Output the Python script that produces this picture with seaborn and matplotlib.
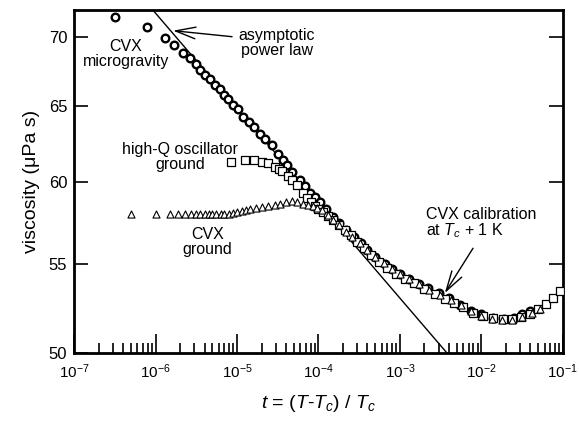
import numpy as np
import pandas as pd
import matplotlib
matplotlib.use("Agg")
import matplotlib.pyplot as plt
import matplotlib.ticker as mticker
import seaborn as sns

# CVX microgravity (circles)
micro_t = [3.2e-7, 7.9e-7, 1.3e-6, 1.7e-6, 2.2e-6, 2.65e-6, 3.1e-6, 3.5e-6, 4.1e-6, 4.7e-6,
           5.4e-6, 6.2e-6, 7.0e-6, 7.8e-6, 9.0e-6, 1.03e-5, 1.2e-5, 1.4e-5, 1.6e-5, 1.9e-5,
           2.2e-5, 2.7e-5, 3.2e-5, 3.7e-5, 4.1e-5, 4.8e-5, 5.9e-5, 6.8e-5, 7.9e-5, 9.0e-5,
           1.05e-4, 1.25e-4, 1.5e-4, 1.8e-4, 2.2e-4, 2.7e-4, 3.3e-4, 4.0e-4, 5.0e-4, 6.5e-4,
           8.0e-4, 1.0e-3, 1.3e-3, 1.7e-3, 2.2e-3, 3.0e-3, 4.0e-3, 5.5e-3, 7.5e-3, 1.0e-2,
           1.4e-2, 1.9e-2, 2.5e-2, 3.2e-2, 4.0e-2]
micro_eta = [71.5, 70.7, 69.9, 69.4, 68.8, 68.4, 68.0, 67.6, 67.2, 66.9,
             66.5, 66.2, 65.8, 65.5, 65.1, 64.8, 64.3, 63.9, 63.6, 63.1,
             62.8, 62.4, 61.8, 61.4, 61.1, 60.6, 60.1, 59.7, 59.3, 59.0,
             58.7, 58.3, 57.8, 57.4, 57.0, 56.6, 56.2, 55.8, 55.4, 55.0,
             54.7, 54.4, 54.1, 53.8, 53.6, 53.3, 53.0, 52.6, 52.3, 52.1,
             51.9, 51.85, 51.9, 52.1, 52.3]

# high-Q oscillator ground (squares)
osc_t = [8.4e-6, 1.26e-5, 1.6e-5, 2.0e-5, 2.4e-5, 2.9e-5, 3.3e-5, 3.6e-5, 4.2e-5, 4.8e-5,
         5.4e-5, 6.4e-5, 7.2e-5, 8.0e-5, 9.0e-5, 1.0e-4, 1.15e-4, 1.3e-4, 1.5e-4, 1.8e-4,
         2.1e-4, 2.5e-4, 3.0e-4, 3.6e-4, 4.4e-4, 5.5e-4, 7.0e-4, 9.0e-4, 1.15e-3, 1.5e-3,
         2.0e-3, 2.7e-3, 3.6e-3, 4.6e-3, 6.0e-3, 8.0e-3, 1.05e-2, 1.4e-2, 1.85e-2, 2.4e-2,
         3.1e-2, 4.0e-2, 5.0e-2, 6.2e-2, 7.5e-2, 9.3e-2]
osc_eta = [61.3, 61.4, 61.4, 61.3, 61.2, 60.95, 60.8, 60.7, 60.35, 60.1,
           59.8, 59.3, 58.95, 58.7, 58.5, 58.3, 58.1, 57.85, 57.6, 57.3,
           57.0, 56.7, 56.3, 55.9, 55.5, 55.1, 54.75, 54.4, 54.1, 53.85,
           53.55, 53.25, 52.95, 52.75, 52.5, 52.2, 52.0, 51.9, 51.85, 51.85,
           51.95, 52.15, 52.4, 52.7, 53.0, 53.4]

# CVX ground (triangles)
gnd_t = [5.0e-7, 1.0e-6, 1.5e-6, 1.9e-6, 2.3e-6, 2.7e-6, 3.1e-6, 3.5e-6, 4.0e-6, 4.5e-6,
         5.0e-6, 5.6e-6, 6.3e-6, 7.0e-6, 8.0e-6, 9.0e-6, 1.0e-5, 1.15e-5, 1.3e-5, 1.45e-5,
         1.7e-5, 2.0e-5, 2.4e-5, 2.9e-5, 3.4e-5, 4.0e-5, 4.7e-5, 5.5e-5, 6.5e-5, 7.5e-5,
         8.5e-5, 9.6e-5, 1.1e-4, 1.3e-4, 1.5e-4, 1.8e-4, 2.2e-4, 2.6e-4, 3.2e-4, 4.0e-4,
         5.0e-4, 6.3e-4, 8.0e-4, 1.0e-3, 1.3e-3, 1.7e-3, 2.3e-3, 3.1e-3, 4.2e-3, 5.6e-3,
         7.5e-3, 1.0e-2, 1.35e-2, 1.8e-2, 2.4e-2, 3.2e-2, 4.2e-2, 5.3e-2]
gnd_eta = [58.0, 58.0, 58.0, 58.0, 58.0, 58.0, 58.0, 58.0, 57.95, 57.95,
           57.95, 57.95, 57.95, 58.0, 58.0, 58.05, 58.1, 58.15, 58.2, 58.3,
           58.35, 58.4, 58.5, 58.55, 58.6, 58.7, 58.75, 58.7, 58.6, 58.55,
           58.45, 58.35, 58.2, 57.9, 57.6, 57.3, 56.9, 56.6, 56.2, 55.8,
           55.4, 55.05, 54.7, 54.4, 54.1, 53.8, 53.5, 53.2, 52.9, 52.6,
           52.3, 52.0, 51.85, 51.8, 51.8, 51.95, 52.2, 52.4]

# asymptotic power law (straight line on log-log axes, two end points)
law_t = [9.3e-7, 3.8e-3]
law_eta = [72.0, 50.0]

y_ticks = [50, 55, 60, 65, 70]

sns.set_theme(style="ticks")
plt.rcParams['font.family'] = ['Liberation Sans', 'DejaVu Sans']
plt.rcParams['mathtext.fontset'] = 'custom'
plt.rcParams['mathtext.rm'] = 'Liberation Sans'
plt.rcParams['mathtext.it'] = 'Liberation Sans:italic'
plt.rcParams['text.color'] = 'black'
plt.rcParams['axes.labelcolor'] = 'black'

fig = plt.figure(figsize=(5.79, 4.25), dpi=100)
ax = fig.add_axes([0.128, 0.169, 0.844, 0.807])

df_gnd = pd.DataFrame({'t': gnd_t, 'eta': gnd_eta})
df_osc = pd.DataFrame({'t': osc_t, 'eta': osc_eta})
df_micro = pd.DataFrame({'t': micro_t, 'eta': micro_eta})

sns.lineplot(x=law_t, y=law_eta, color='black', linewidth=1.0, ax=ax)
sns.scatterplot(data=df_micro, x='t', y='eta', marker='o', s=30, facecolor='white',
                edgecolor='black', linewidth=1.7, ax=ax, zorder=3)
sns.scatterplot(data=df_osc, x='t', y='eta', marker='s', s=28, facecolor='white',
                edgecolor='black', linewidth=0.9, ax=ax, zorder=4)
sns.scatterplot(data=df_gnd, x='t', y='eta', marker='^', s=26, facecolor='white',
                edgecolor='black', linewidth=0.8, ax=ax, zorder=5)

ax.set_xscale('log')
ax.set_yscale('log')
ax.set_xlim(1e-7, 1e-1)
ax.set_ylim(50, 72)

ax.xaxis.set_major_locator(mticker.LogLocator(base=10, numticks=10))
ax.xaxis.set_minor_locator(mticker.LogLocator(base=10, subs=np.arange(2, 10), numticks=20))
ax.xaxis.set_minor_formatter(mticker.NullFormatter())
ax.yaxis.set_major_locator(mticker.FixedLocator(y_ticks))
ax.yaxis.set_major_formatter(mticker.FixedFormatter([str(v) for v in y_ticks]))
ax.yaxis.set_minor_locator(mticker.NullLocator())

ax.tick_params(axis='both', which='both', direction='in', top=False, right=True,
               width=1.2, colors='black')
ax.tick_params(axis='x', which='major', length=14, pad=7, labelsize=11)
ax.tick_params(axis='x', which='minor', length=7)
ax.tick_params(axis='y', which='major', length=10, pad=5, labelsize=12)
for sp in ax.spines.values():
    sp.set_linewidth(2)
    sp.set_color('black')

ax.set_xlabel(r'$t$ = ($T$-$T_c$) / $T_c$', fontsize=14, labelpad=8)
ax.set_ylabel('viscosity (μPa s)', fontsize=14, labelpad=6)

arrow = dict(arrowstyle='->,head_length=1.2,head_width=0.35', color='black', lw=1.0,
             shrinkA=0, shrinkB=0)

ax.text(4.35e-7, 68.7, 'CVX\nmicrogravity', ha='center', va='center', fontsize=11.5,
        linespacing=1.0)
ax.text(3.1e-5, 69.5, 'asymptotic\npower law', ha='center', va='center', fontsize=11.5,
        linespacing=1.0)
ax.annotate('', xy=(1.64e-6, 70.45), xytext=(8.7e-6, 70.0), arrowprops=arrow)
ax.text(2.0e-6, 61.6, 'high-Q oscillator\nground', ha='center', va='center', fontsize=11.5,
        linespacing=1.0)
ax.text(4.3e-6, 56.25, 'CVX\nground', ha='center', va='center', fontsize=11.5,
        linespacing=1.0)
ax.text(2.08e-3, 57.4, 'CVX calibration\nat $T_c$ + 1 K', ha='left', va='center',
        fontsize=11.5, linespacing=1.0)
ax.annotate('', xy=(3.56e-3, 53.3), xytext=(7.9e-3, 55.9), arrowprops=arrow)

fig.savefig('out.png', dpi=100)
